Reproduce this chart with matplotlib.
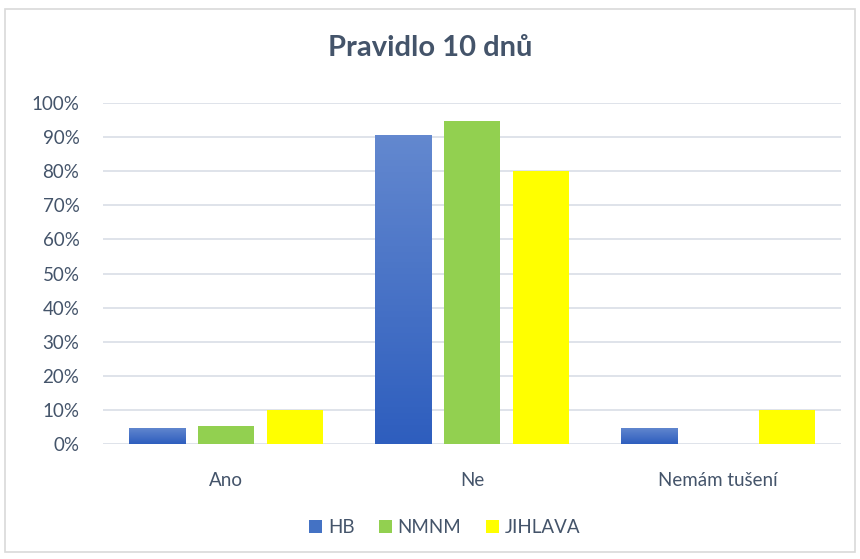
import numpy as np
import matplotlib
matplotlib.use("Agg")
import matplotlib.pyplot as plt
from matplotlib.patches import Rectangle
from matplotlib.colors import LinearSegmentedColormap

# data
categories = ["Ano", "Ne", "Nemám tušení"]
series = ["HB", "NMNM", "JIHLAVA"]
hb = [4.76, 90.48, 4.76]
nmnm = [5.26, 94.74, 0.0]
jihlava = [10.0, 80.0, 10.0]
yticks = [0, 10, 20, 30, 40, 50, 60, 70, 80, 90, 100]

colors = ["#4472C4", "#92D050", "#FFFF00"]
txt = "#44546A"
plt.rcParams['font.family'] = ['Lato', 'DejaVu Sans']

fig = plt.figure(figsize=(8.6, 5.59), dpi=100)
fig.patches.append(Rectangle((0.006, 0.012), 0.988, 0.972, transform=fig.transFigure,
                             fill=False, edgecolor="#D9D9D9", linewidth=1.2))
ax = fig.add_axes([0.1198, 0.2057, 0.858, 0.61])

x = np.arange(len(categories))
w = 0.228
step = w + 0.053
vals = [hb, nmnm, jihlava]
blue_cmap = LinearSegmentedColormap.from_list("b", ["#2E5EBE", "#6388CF"])
for i, (name, v) in enumerate(zip(series, vals)):
    bars = ax.bar(x + (i - 1) * step, v, w, color=colors[i], label=name, zorder=3)
    if i == 0:
        for b in bars:
            grad = np.linspace(0, 1, 100).reshape(-1, 1)
            im = ax.imshow(grad, cmap=blue_cmap, origin="lower", aspect="auto",
                           extent=[b.get_x(), b.get_x() + w, 0, b.get_height()], zorder=4)
            im.set_clip_path(b)

ax.set_xlim(-0.5, 2.5)
ax.set_ylim(0, 100)
ax.set_yticks(yticks)
ax.set_yticklabels([f"{t}%" for t in yticks])
ax.set_xticks(x)
ax.set_xticklabels(categories)
ax.grid(axis="y", color="#D9DEE6", linewidth=1.2, zorder=0)
for s in ax.spines.values():
    s.set_visible(False)
ax.tick_params(axis="both", length=0, colors=txt, labelsize=13.5)
ax.tick_params(axis="x", pad=20)
ax.tick_params(axis="y", pad=17)

fig.text(0.5, 0.915, "Pravidlo 10 dnů", ha="center", va="center", fontsize=21,
         fontweight="bold", color=txt)
ax.legend(loc="center", bbox_to_anchor=(0.517, 0.057), bbox_transform=fig.transFigure,
          ncol=3, frameon=False, fontsize=13.5, labelcolor=txt, handlelength=0.7,
          handleheight=0.7, columnspacing=1.3, handletextpad=0.3)

fig.savefig("out.png", dpi=100)
